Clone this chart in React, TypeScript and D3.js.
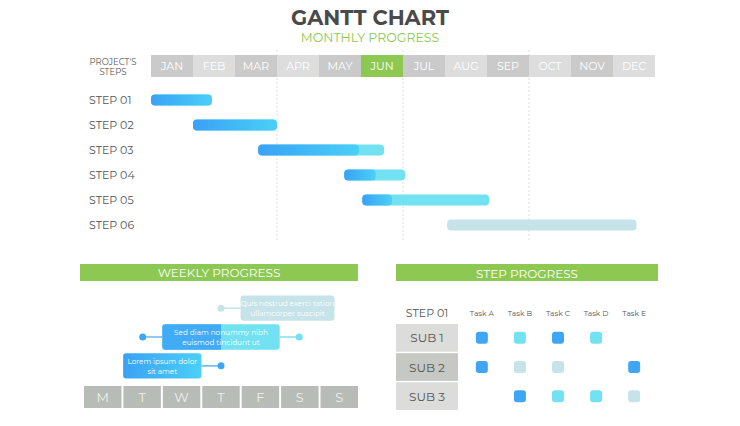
import React from "react";
import * as d3 from "d3";

// ---- data ----
const months = ["JAN", "FEB", "MAR", "APR", "MAY", "JUN", "JUL", "AUG", "SEP", "OCT", "NOV", "DEC"];
const highlightMonth = "JUN";
const quarterMarks = [3, 6, 9];

const steps = ["STEP 01", "STEP 02", "STEP 03", "STEP 04", "STEP 05", "STEP 06"];
const stepStart = [0, 1, 2.55, 4.6, 5.03, 7.05];
const stepEnd = [1.45, 3, 5.55, 6.05, 8.05, 11.56];
const stepDone = [1.45, 3, 4.95, 5.35, 5.74, 7.05];
const stepPlanned = [false, false, false, false, false, true];

const days = ["M", "T", "W", "T", "F", "S", "S"];
const noteText = [
  ["Quis nostrud exerci tation", "ullamcorper suscipit"],
  ["Sed diam nonummy nibh", "euismod tincidunt ut"],
  ["Lorem ipsum dolor", "sit amet"],
];
const noteFrom = [4, 2, 1];
const noteTo = [6.4, 5, 3];
const noteSplit = [null, 3.5, null];
const noteDots = [[3.5], [1.5, 5.5], [3.5]];
const noteKind = ["pale", "split", "blue"];

const tasks = ["Task A", "Task B", "Task C", "Task D", "Task E"];
const subs = ["SUB 1", "SUB 2", "SUB 3"];
// 0 none, 1 dark, 2 light, 3 pale
const taskState = [
  [1, 2, 1, 2, 0],
  [1, 3, 3, 0, 1],
  [0, 1, 2, 2, 3],
];

const FONT = "Montserrat, 'Open Sans', Lato, sans-serif";
const GREEN = "#8dc853";
const DARK = "#3ea6f5";
const LIGHT = "#72e2f2";
const PALE = "#c6e3e9";
const LABEL = "#555";

const App = () => {
  const width = 740;
  const height = 426;

  const x = d3.scaleLinear().domain([0, 12]).range([151, 655]);
  const mBand = d3.scaleBand().domain(months).range([151, 655]).paddingInner(0);
  const y = d3.scalePoint().domain(steps).range([100, 225]);
  const barH = 11;

  const dayX = d3.scaleLinear().domain([0, 7]).range([84, 358]);
  const dayBand = d3.scaleBand().domain(d3.range(7).map(String)).range([84, 358]).paddingInner(0.05);
  const noteY = d3.scaleBand().domain(["0", "1", "2"]).range([292, 382]).padding(0.12);

  const taskX = d3.scaleBand().domain(tasks).range([459, 657]).padding(0.2);
  const subY = d3.scaleBand().domain(subs).range([324, 410]).paddingInner(0.05);

  const stateColor = (s: number) => (s === 1 ? DARK : s === 2 ? LIGHT : PALE);

  return (
    <svg width={width} height={height} style={{ position: "absolute", left: 0, top: 0, background: "#fff" }} fontFamily={FONT}>
      <defs>
        <linearGradient id="blueGrad" x1="0" x2="1" y1="0" y2="0">
          <stop offset="0%" stopColor="#3aa2f4" />
          <stop offset="100%" stopColor="#4bcff8" />
        </linearGradient>
      </defs>

      {/* title */}
      <text x={370} y={25} textAnchor="middle" fontSize={21} fontWeight={700} fill="#4a4a4a">GANTT CHART</text>
      <text x={370} y={42} textAnchor="middle" fontSize={12.5} fill={GREEN}>MONTHLY PROGRESS</text>

      {/* quarter lines */}
      {quarterMarks.map((q) => (
        <line key={q} x1={x(q)} x2={x(q)} y1={50} y2={240} stroke="#d5d5d5" strokeDasharray="2,2" strokeWidth={0.8} />
      ))}

      {/* month header */}
      <text x={113} y={65} textAnchor="middle" fontSize={8.5} fill={LABEL}>PROJECT'S</text>
      <text x={113} y={75} textAnchor="middle" fontSize={8.5} fill={LABEL}>STEPS</text>
      {months.map((m, i) => (
        <g key={m}>
          <rect x={mBand(m)} y={55} width={mBand.bandwidth()} height={22}
            fill={m === highlightMonth ? GREEN : i % 2 === 0 ? "#cacaca" : "#dddddd"} />
          <text x={mBand(m)! + mBand.bandwidth() / 2} y={70} textAnchor="middle" fontSize={11} fill="#fff">{m}</text>
        </g>
      ))}

      {/* steps */}
      {steps.map((s, i) => {
        const cy = y(s)!;
        const yy = cy - barH / 2;
        return (
          <g key={s}>
            <text x={89} y={cy + 4} fontSize={11} fill={LABEL}>{s}</text>
            <rect x={x(stepStart[i])} y={yy} width={x(stepEnd[i]) - x(stepStart[i])} height={barH} rx={4}
              fill={stepPlanned[i] ? PALE : LIGHT} />
            {stepDone[i] > stepStart[i] && (
              <rect x={x(stepStart[i])} y={yy} width={x(stepDone[i]) - x(stepStart[i])} height={barH} rx={4}
                fill="url(#blueGrad)" />
            )}
          </g>
        );
      })}

      {/* weekly progress */}
      <rect x={80} y={264} width={278} height={17} fill={GREEN} />
      <text x={219} y={277} textAnchor="middle" fontSize={12} fill="#fff">WEEKLY PROGRESS</text>

      {noteText.map((lines, i) => {
        const yy = noteY(String(i))!;
        const h = noteY.bandwidth();
        const cy = yy + h / 2;
        const x0 = dayX(noteFrom[i]);
        const x1 = dayX(noteTo[i]);
        const kind = noteKind[i];
        const lineColor = kind === "pale" ? PALE : kind === "blue" ? "#5ab8ef" : "#86dcee";
        return (
          <g key={i}>
            {noteDots[i].map((d, j) => {
              const dx = dayX(d);
              const edge = dx < x0 ? x0 : x1;
              const dotColor = kind === "pale" ? PALE : kind === "blue" ? DARK : dx < x0 ? DARK : LIGHT;
              return (
                <g key={j}>
                  <line x1={dx} x2={edge} y1={cy} y2={cy} stroke={dx < x0 && kind === "split" ? "#6cb8ec" : lineColor} strokeWidth={1.5} />
                  <circle cx={dx} cy={cy} r={3.5} fill={dotColor} />
                </g>
              );
            })}
            {kind === "split" ? (
              <g>
                <rect x={x0} y={yy} width={x1 - x0} height={h} rx={3} fill={LIGHT} />
                <path d={`M${dayX(noteSplit[i]!)},${yy} H${x0 + 3} Q${x0},${yy} ${x0},${yy + 3} V${yy + h - 3} Q${x0},${yy + h} ${x0 + 3},${yy + h} H${dayX(noteSplit[i]!)} Z`} fill={DARK} opacity={0.92} />
              </g>
            ) : (
              <rect x={x0} y={yy} width={x1 - x0} height={h} rx={3} fill={kind === "pale" ? PALE : "url(#blueGrad)"} />
            )}
            {lines.map((t, k) => (
              <text key={k} x={(x0 + x1) / 2} y={cy - 2 + k * 10} textAnchor="middle" fontSize={7.3} fill="#fff">{t}</text>
            ))}
          </g>
        );
      })}

      {days.map((d, i) => (
        <g key={i}>
          <rect x={dayBand(String(i))} y={386} width={dayBand.bandwidth()} height={22} fill="#b8bcb6" />
          <text x={dayBand(String(i))! + dayBand.bandwidth() / 2} y={402} textAnchor="middle" fontSize={13} fill="#eef0ec">{d}</text>
        </g>
      ))}

      {/* step progress */}
      <rect x={396} y={264} width={262} height={17} fill={GREEN} />
      <text x={527} y={278} textAnchor="middle" fontSize={12} fill="#fff">STEP PROGRESS</text>

      <text x={427} y={317} textAnchor="middle" fontSize={11} fill={LABEL}>STEP 01</text>
      {tasks.map((t) => (
        <text key={t} x={taskX(t)! + taskX.bandwidth() / 2} y={316} textAnchor="middle" fontSize={7.5} fill={LABEL}>{t}</text>
      ))}
      {subs.map((s, r) => {
        const yy = subY(s)!;
        const h = subY.bandwidth();
        return (
          <g key={s}>
            <rect x={396} y={yy} width={62} height={h} fill={r === 1 ? "#c6c9c3" : "#dcdcda"} />
            <text x={427} y={yy + h / 2 + 4.5} textAnchor="middle" fontSize={12} fill={LABEL}>{s}</text>
            {tasks.map((t, c) => {
              const st = taskState[r][c];
              if (!st) return null;
              const cx = taskX(t)! + taskX.bandwidth() / 2;
              return <rect key={t} x={cx - 6} y={yy + h / 2 - 6} width={12} height={12} rx={3} fill={stateColor(st)} />;
            })}
          </g>
        );
      })}
    </svg>
  );
};

export default App;
